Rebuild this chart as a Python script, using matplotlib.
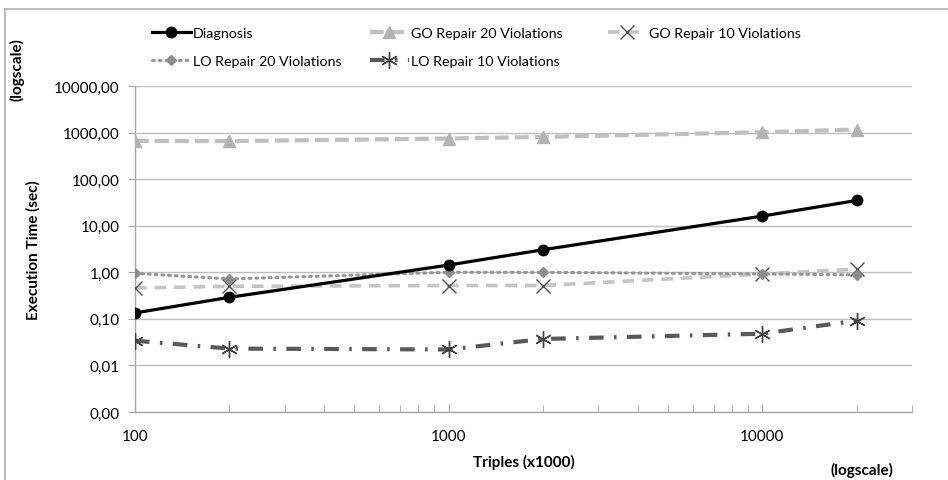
import matplotlib
matplotlib.use("Agg")
import matplotlib.pyplot as plt
from matplotlib.lines import Line2D
from matplotlib.ticker import FixedLocator, FuncFormatter, LogLocator, NullFormatter

plt.rcParams['font.family'] = ['Lato', 'DejaVu Sans']

triples = [100, 200, 1000, 2000, 10000, 20000]
diagnosis = [0.134, 0.29, 1.43, 3.05, 16.1, 34.9]
go_repair_20 = [663, 655, 745, 807, 1015, 1160]
go_repair_10 = [0.46, 0.50, 0.52, 0.52, 0.92, 1.17]
lo_repair_20 = [0.95, 0.72, 1.0, 1.0, 0.92, 0.88]
lo_repair_10 = [0.034, 0.023, 0.022, 0.037, 0.048, 0.092]

y_ticks = [0.001, 0.01, 0.1, 1, 10, 100, 1000, 10000]
x_ticks = [100, 1000, 10000]

fig = plt.figure(figsize=(9.48, 4.81), dpi=100)
ax = fig.add_axes([135/948, 1-413/481, (912-135)/948, (413-87)/481])

ax.plot(triples, diagnosis, color='black', lw=2.3, marker='o', ms=7.5,
        label='Diagnosis', zorder=6)
ax.plot(triples, go_repair_20, color='#bfbfbf', lw=3, ls=(0, (3.3, 1.5)),
        marker='^', ms=8, mec='#b3b3b3', mfc='#b3b3b3',
        label='GO Repair 20 Violations', zorder=3)
ax.plot(triples, go_repair_10, color='#c4c4c4', lw=2.6, ls=(0, (3.2, 2.2)),
        marker='x', ms=10, mew=1.0, mec='#505050',
        label='GO Repair 10 Violations', zorder=4)
ax.plot(triples, lo_repair_20, color='#959595', lw=2.2, ls=(0, (0.6, 1.6)),
        dash_capstyle='round', marker='D', ms=5.5, mec='#8c8c8c', mfc='#8c8c8c',
        label='LO Repair 20 Violations', zorder=5)
ax.plot(triples, lo_repair_10, color='#595959', lw=3, ls=(0, (3.5, 2.5, 0.6, 2.5)),
        marker=(6, 2, 0), ms=12, mew=1.0, mec='#404040',
        label='LO Repair 10 Violations', zorder=5)

ax.set_xscale('log')
ax.set_yscale('log')
ax.set_xlim(100, 30000)
ax.set_ylim(0.001, 10000)

ax.yaxis.set_major_locator(FixedLocator(y_ticks))
ax.yaxis.set_minor_locator(FixedLocator([]))
ax.yaxis.set_major_formatter(FuncFormatter(
    lambda v, p: ('%.2f' % v).replace('.', ',')))
ax.xaxis.set_major_locator(FixedLocator(x_ticks))
ax.xaxis.set_minor_locator(LogLocator(base=10, subs=range(2, 10)))
ax.xaxis.set_minor_formatter(NullFormatter())
ax.xaxis.set_major_formatter(FuncFormatter(lambda v, p: '%d' % v))

ax.grid(True, axis='y', which='major', color='#bebebe', lw=1.0)
ax.set_axisbelow(True)
for s in ['top', 'right']:
    ax.spines[s].set_visible(False)
for s in ['left', 'bottom']:
    ax.spines[s].set_color('#a6a6a6')
    ax.spines[s].set_linewidth(1.0)

ax.tick_params(axis='y', which='major', direction='out', length=5,
               color='#a6a6a6', labelsize=11, pad=6)
ax.tick_params(axis='x', which='major', direction='in', length=6,
               color='#a6a6a6', labelsize=11, pad=12)
ax.tick_params(axis='x', which='minor', direction='in', length=5,
               color='#a6a6a6')

ax.set_xlabel('Triples (x1000)', fontsize=11, fontweight='bold', labelpad=8)
ax.set_ylabel('Execution Time (sec)', fontsize=11, fontweight='bold', labelpad=10)

fig.text(17/948, 1-70/481, '(logscale)', rotation=90, fontsize=11,
         fontweight='bold', ha='center', va='center')
fig.text(862/948, 1-470/481, '(logscale)', fontsize=11,
         fontweight='bold', ha='center', va='center')

handles, labels = ax.get_legend_handles_labels()
columns = [([0, 3], 152), ([1, 4], 370), ([2], 608)]
for idx, xpix in columns:
    leg = fig.legend([handles[i] for i in idx], [labels[i] for i in idx],
                     ncol=1, loc='upper left',
                     bbox_to_anchor=(xpix/948, 1-28/481),
                     frameon=False, fontsize=10.3, handlelength=2.7,
                     handletextpad=0.15, labelspacing=1.12,
                     borderpad=0, borderaxespad=0)

# chart-area border
fig.add_artist(Line2D([5/948, 1.0], [1-10/481, 1-10/481], color='#b0b0b0', lw=1.2,
                      transform=fig.transFigure))
fig.add_artist(Line2D([5/948, 5/948], [0, 1-10/481], color='#b0b0b0', lw=1.2,
                      transform=fig.transFigure))

fig.savefig('out.png', dpi=100)
